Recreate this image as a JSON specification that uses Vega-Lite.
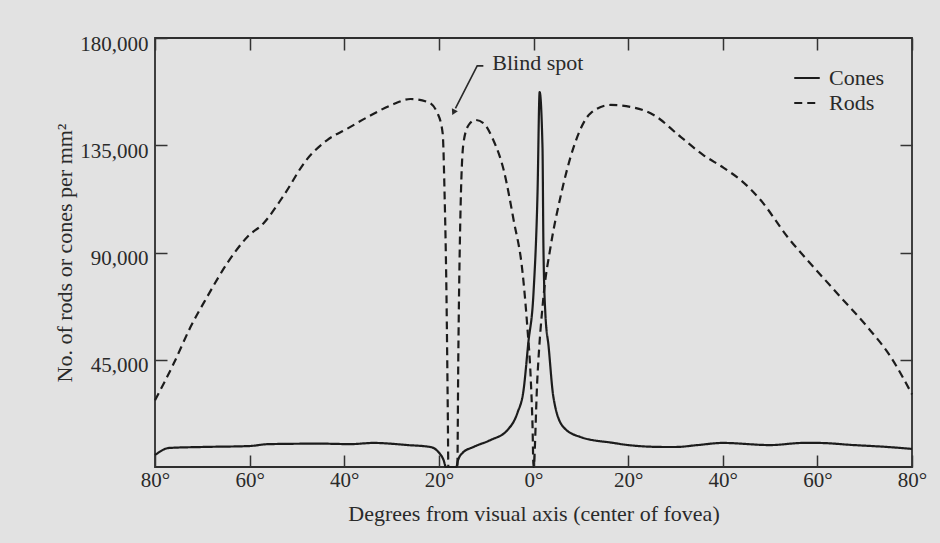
{
  "$schema": "https://vega.github.io/schema/vega-lite/v6.json",
  "width": 757,
  "height": 429,
  "autosize": {"type": "none"},
  "padding": {"left": 155, "top": 38, "right": 28, "bottom": 76},
  "background": "#e2e2e2",
  "config": {
    "view": {"stroke": "#2e2e2e", "strokeWidth": 1.8},
    "font": "Liberation Serif",
    "axis": {"grid": false, "domain": false, "labelFont": "Liberation Serif", "titleFont": "Liberation Serif", "labelColor": "#2a2a2a", "titleColor": "#2a2a2a", "tickColor": "#333333", "tickWidth": 1.5, "titleFontWeight": "normal"}
  },
  "datasets": {
    "curves": [
      {"type": "Rods", "deg": -80, "n": 28000},
      {"type": "Rods", "deg": -76, "n": 43600},
      {"type": "Rods", "deg": -72.5, "n": 58700},
      {"type": "Rods", "deg": -69, "n": 71300},
      {"type": "Rods", "deg": -64.7, "n": 85600},
      {"type": "Rods", "deg": -60.5, "n": 96500},
      {"type": "Rods", "deg": -57, "n": 102400},
      {"type": "Rods", "deg": -53, "n": 113300},
      {"type": "Rods", "deg": -48, "n": 128800},
      {"type": "Rods", "deg": -43.6, "n": 137200},
      {"type": "Rods", "deg": -39.5, "n": 141800},
      {"type": "Rods", "deg": -35, "n": 146900},
      {"type": "Rods", "deg": -30, "n": 151900},
      {"type": "Rods", "deg": -26, "n": 154400},
      {"type": "Rods", "deg": -22.4, "n": 153200},
      {"type": "Rods", "deg": -20.3, "n": 148500},
      {"type": "Rods", "deg": -19.2, "n": 140100},
      {"type": "Rods", "deg": -18.8, "n": 115000},
      {"type": "Rods", "deg": -18.4, "n": 73000},
      {"type": "Rods", "deg": -18.1, "n": 20000},
      {"type": "Rods", "deg": -18.0, "n": 0},
      {"type": "Rods", "deg": -16.1, "n": 0},
      {"type": "Rods", "deg": -15.9, "n": 44900},
      {"type": "Rods", "deg": -15.5, "n": 100700},
      {"type": "Rods", "deg": -14.8, "n": 136000},
      {"type": "Rods", "deg": -13.7, "n": 143500},
      {"type": "Rods", "deg": -12.3, "n": 145600},
      {"type": "Rods", "deg": -10.6, "n": 144300},
      {"type": "Rods", "deg": -8.5, "n": 137200},
      {"type": "Rods", "deg": -6.3, "n": 124600},
      {"type": "Rods", "deg": -4.2, "n": 103600},
      {"type": "Rods", "deg": -2.3, "n": 81400},
      {"type": "Rods", "deg": -1.3, "n": 58700},
      {"type": "Rods", "deg": -0.6, "n": 37800},
      {"type": "Rods", "deg": -0.2, "n": 16800},
      {"type": "Rods", "deg": 0, "n": 0},
      {"type": "Rods", "deg": 0.8, "n": 36500},
      {"type": "Rods", "deg": 2.1, "n": 71300},
      {"type": "Rods", "deg": 3.6, "n": 92300},
      {"type": "Rods", "deg": 5.7, "n": 113300},
      {"type": "Rods", "deg": 8.5, "n": 134300},
      {"type": "Rods", "deg": 12.1, "n": 148500},
      {"type": "Rods", "deg": 16.3, "n": 151900},
      {"type": "Rods", "deg": 20.5, "n": 151100},
      {"type": "Rods", "deg": 25.4, "n": 147700},
      {"type": "Rods", "deg": 31.1, "n": 138500},
      {"type": "Rods", "deg": 35.9, "n": 130900},
      {"type": "Rods", "deg": 40.2, "n": 125500},
      {"type": "Rods", "deg": 43.8, "n": 120400},
      {"type": "Rods", "deg": 48, "n": 112000},
      {"type": "Rods", "deg": 53.7, "n": 96500},
      {"type": "Rods", "deg": 59.2, "n": 83900},
      {"type": "Rods", "deg": 64.9, "n": 71300},
      {"type": "Rods", "deg": 70.6, "n": 58700},
      {"type": "Rods", "deg": 75.5, "n": 46200},
      {"type": "Rods", "deg": 80, "n": 30500},
      {"type": "Cones", "deg": -80, "n": 5000},
      {"type": "Cones", "deg": -77, "n": 8000},
      {"type": "Cones", "deg": -70, "n": 8400},
      {"type": "Cones", "deg": -60, "n": 8800},
      {"type": "Cones", "deg": -56, "n": 9600},
      {"type": "Cones", "deg": -45, "n": 9800},
      {"type": "Cones", "deg": -38.7, "n": 9600},
      {"type": "Cones", "deg": -33.8, "n": 10100},
      {"type": "Cones", "deg": -26.6, "n": 9200},
      {"type": "Cones", "deg": -21.8, "n": 8400},
      {"type": "Cones", "deg": -20.1, "n": 6300},
      {"type": "Cones", "deg": -19.0, "n": 2900},
      {"type": "Cones", "deg": -18.5, "n": 0},
      {"type": "Cones", "deg": -16.3, "n": 0},
      {"type": "Cones", "deg": -16.0, "n": 2500},
      {"type": "Cones", "deg": -15, "n": 5900},
      {"type": "Cones", "deg": -12.7, "n": 8400},
      {"type": "Cones", "deg": -9.1, "n": 11300},
      {"type": "Cones", "deg": -5.5, "n": 15500},
      {"type": "Cones", "deg": -3.4, "n": 22700},
      {"type": "Cones", "deg": -2.1, "n": 32300},
      {"type": "Cones", "deg": -1.1, "n": 52000},
      {"type": "Cones", "deg": 0, "n": 73000},
      {"type": "Cones", "deg": 0.85, "n": 115000},
      {"type": "Cones", "deg": 1.3, "n": 157300},
      {"type": "Cones", "deg": 1.9, "n": 134300},
      {"type": "Cones", "deg": 2.1, "n": 92300},
      {"type": "Cones", "deg": 2.5, "n": 64600},
      {"type": "Cones", "deg": 3.2, "n": 50400},
      {"type": "Cones", "deg": 4.2, "n": 29400},
      {"type": "Cones", "deg": 6.3, "n": 16800},
      {"type": "Cones", "deg": 9.9, "n": 12600},
      {"type": "Cones", "deg": 16.9, "n": 10100},
      {"type": "Cones", "deg": 20, "n": 9200},
      {"type": "Cones", "deg": 27.5, "n": 8400},
      {"type": "Cones", "deg": 30, "n": 8400},
      {"type": "Cones", "deg": 34.7, "n": 9200},
      {"type": "Cones", "deg": 40, "n": 10100},
      {"type": "Cones", "deg": 50, "n": 9200},
      {"type": "Cones", "deg": 57, "n": 10100},
      {"type": "Cones", "deg": 60, "n": 10100},
      {"type": "Cones", "deg": 67.7, "n": 9200},
      {"type": "Cones", "deg": 74.8, "n": 8400},
      {"type": "Cones", "deg": 80, "n": 7600}
    ],
    "arrow": [
      {"i": 0, "deg": -10.6, "n": 168300},
      {"i": 1, "deg": -11.9, "n": 168300},
      {"i": 2, "deg": -16.5, "n": 150500}
    ],
    "arrowhead": [{"deg": -16.9, "n": 148800}],
    "label": [{"deg": -8.7, "n": 169500, "text": "Blind spot"}]
  },
  "resolve": {"axis": {"x": "independent", "y": "independent"}},
  "layer": [
    {
      "data": {"name": "curves"},
      "mark": {"type": "line", "interpolate": "monotone", "stroke": "#1c1c1c", "strokeWidth": 2.2},
      "encoding": {
        "x": {"field": "deg", "type": "quantitative", "scale": {"domain": [-80, 80], "nice": false},
          "axis": {"orient": "bottom", "values": [-80, -60, -40, -20, 0, 20, 40, 60, 80], "labelExpr": "abs(datum.value) + '°'", "labelFontSize": 21, "labelPadding": 14, "tickSize": -12, "labelFlush": false, "title": "Degrees from visual axis (center of fovea)", "titleFontSize": 22, "titlePadding": 13}},
        "y": {"field": "n", "type": "quantitative", "scale": {"domain": [0, 180000], "nice": false},
          "axis": {"orient": "left", "values": [45000, 90000, 135000, 180000], "format": ",.0f", "labelFontSize": 21, "labelPadding": 19, "labelOffset": 6, "tickSize": -12, "labelFlush": false, "title": "No. of rods or cones per mm²", "titleFontSize": 22, "titlePadding": 3}},
        "strokeDash": {"field": "type", "type": "nominal", "scale": {"domain": ["Cones", "Rods"], "range": [[1, 0], [8, 5]]},
          "legend": {"title": null, "orient": "none", "legendX": 638, "legendY": 26, "symbolType": "stroke", "symbolSize": 650, "symbolStrokeWidth": 2.2, "symbolDash": null, "symbolStrokeColor": "#1c1c1c", "labelFont": "Liberation Serif", "labelFontSize": 22, "labelColor": "#2a2a2a", "labelOffset": 8, "rowPadding": -1, "padding": 0}}
      }
    },
    {
      "data": {"name": "arrow"},
      "mark": {"type": "line", "stroke": "#2a2a2a", "strokeWidth": 1.6},
      "encoding": {
        "x": {"field": "deg", "type": "quantitative", "axis": {"orient": "top", "values": [-80, -60, -40, -20, 0, 20, 40, 60, 80], "labels": false, "tickSize": -12, "title": null}},
        "y": {"field": "n", "type": "quantitative", "axis": {"orient": "right", "values": [45000, 90000, 135000], "labels": false, "tickSize": -12, "title": null}},
        "order": {"field": "i", "type": "quantitative"}
      }
    },
    {
      "data": {"name": "arrowhead"},
      "mark": {"type": "point", "shape": "triangle-up", "filled": true, "color": "#2a2a2a", "size": 45, "angle": 207, "opacity": 1},
      "encoding": {
        "x": {"field": "deg", "type": "quantitative", "axis": null},
        "y": {"field": "n", "type": "quantitative", "axis": null}
      }
    },
    {
      "data": {"name": "label"},
      "mark": {"type": "text", "align": "left", "baseline": "middle", "font": "Liberation Serif", "fontSize": 22, "color": "#2a2a2a"},
      "encoding": {
        "x": {"field": "deg", "type": "quantitative", "axis": null},
        "y": {"field": "n", "type": "quantitative", "axis": null},
        "text": {"field": "text"}
      }
    }
  ]
}
